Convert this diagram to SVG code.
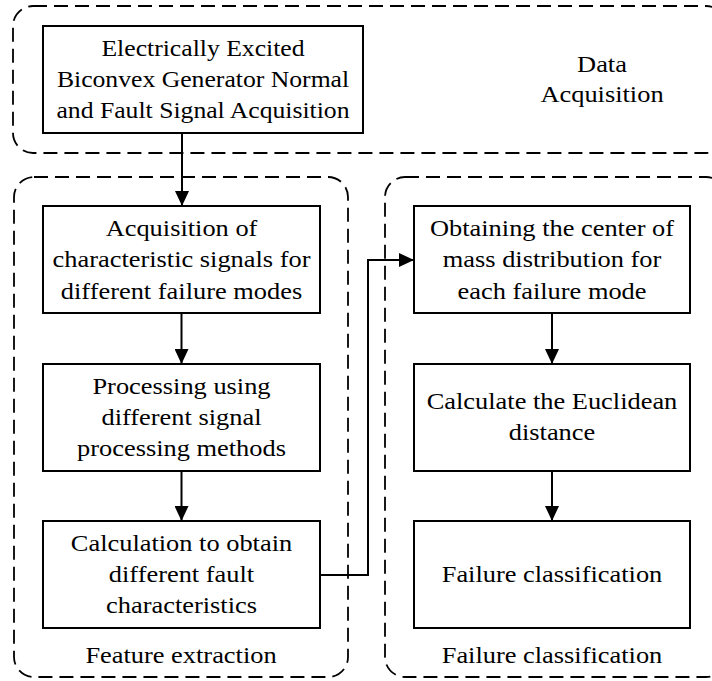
<svg xmlns="http://www.w3.org/2000/svg" width="712" height="681" viewBox="0 0 712 681">
<style>
.grp{fill:none;stroke:#000;stroke-width:1.8;stroke-dasharray:14 7}
.box{fill:#fff;stroke:#000;stroke-width:2}
.t{font-family:"Liberation Serif","Times New Roman",serif;font-size:24px;fill:#000;text-anchor:middle}
.c{fill:none;stroke:#000;stroke-width:2}
</style>
<defs>
<marker id="ah" markerUnits="userSpaceOnUse" markerWidth="15" markerHeight="14" refX="15" refY="7" orient="auto">
<path d="M0,0 L15,7 L0,14 z" fill="#000"/>
</marker>
</defs>
<rect width="712" height="681" fill="#fff"/>
<g id="group-data">
<rect class="grp" x="13" y="6" width="713" height="147" rx="20"/>
<text class="t" transform="translate(602 72) scale(1.1 1)"><tspan x="0" dy="0">Data</tspan><tspan x="0" dy="30">Acquisition</tspan></text>
</g>
<g id="group-feature">
<rect class="grp" x="14" y="177" width="334" height="500" rx="20"/>
<text class="t" transform="translate(181 663) scale(1.1 1)">Feature extraction</text>
</g>
<g id="group-classification">
<rect class="grp" x="385" y="177" width="341" height="500" rx="20"/>
<text class="t" transform="translate(552 663) scale(1.1 1)">Failure classification</text>
</g>
<g id="connectors">
<path class="c" d="M182,133 V206" marker-end="url(#ah)"/>
<path class="c" d="M181.5,313 V364" marker-end="url(#ah)"/>
<path class="c" d="M181.5,471 V521" marker-end="url(#ah)"/>
<path class="c" d="M320,575 H368 V260 H414" marker-end="url(#ah)"/>
<path class="c" d="M552,313 V364" marker-end="url(#ah)"/>
<path class="c" d="M552,471 V521" marker-end="url(#ah)"/>
</g>
<g id="node-signal">
<rect class="box" x="43" y="26" width="320" height="107"/>
<text class="t" transform="translate(203 55.5) scale(1.07 1)"><tspan x="0" dy="0">Electrically Excited</tspan><tspan x="0" dy="31.5">Biconvex Generator Normal</tspan><tspan x="0" dy="31.5">and Fault Signal Acquisition</tspan></text>
</g>
<g id="node-acq">
<rect class="box" x="43" y="206" width="277" height="107"/>
<text class="t" transform="translate(181.5 236) scale(1.1 1)"><tspan x="0" dy="0">Acquisition of</tspan><tspan x="0" dy="31.5">characteristic signals for</tspan><tspan x="0" dy="31.5">different failure modes</tspan></text>
</g>
<g id="node-proc">
<rect class="box" x="43" y="364" width="277" height="107"/>
<text class="t" transform="translate(181.5 393.5) scale(1.1 1)"><tspan x="0" dy="0">Processing using</tspan><tspan x="0" dy="31.5">different signal</tspan><tspan x="0" dy="31.5">processing methods</tspan></text>
</g>
<g id="node-calc">
<rect class="box" x="43" y="521" width="277" height="107"/>
<text class="t" transform="translate(181.5 550.5) scale(1.1 1)"><tspan x="0" dy="0">Calculation to obtain</tspan><tspan x="0" dy="31.5">different fault</tspan><tspan x="0" dy="31.5">characteristics</tspan></text>
</g>
<g id="node-center">
<rect class="box" x="414" y="206" width="276" height="107"/>
<text class="t" transform="translate(552 236) scale(1.1 1)"><tspan x="0" dy="0">Obtaining the center of</tspan><tspan x="0" dy="31.5">mass distribution for</tspan><tspan x="0" dy="31.5">each failure mode</tspan></text>
</g>
<g id="node-euclid">
<rect class="box" x="414" y="364" width="276" height="107"/>
<text class="t" transform="translate(552 409) scale(1.1 1)"><tspan x="0" dy="0">Calculate the Euclidean</tspan><tspan x="0" dy="31.5">distance</tspan></text>
</g>
<g id="node-classify">
<rect class="box" x="414" y="521" width="276" height="107"/>
<text class="t" transform="translate(552 582) scale(1.1 1)">Failure classification</text>
</g>
</svg>
